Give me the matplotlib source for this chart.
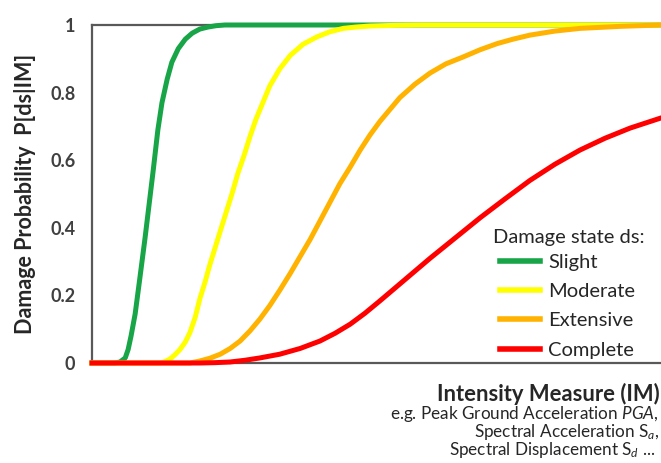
import matplotlib
matplotlib.use("Agg")
import matplotlib.pyplot as plt

plt.rcParams['font.family'] = ['Lato', 'DejaVu Sans']
plt.rcParams['mathtext.fontset'] = 'custom'
plt.rcParams['mathtext.rm'] = 'Lato'
plt.rcParams['mathtext.it'] = 'Lato:italic'

# fragility curves (IM in arbitrary units 0..10)
slight_im = [0, 0.39, 0.48, 0.57, 0.62, 0.67, 0.74, 0.82, 0.91, 0.98, 1.05, 1.13,
             1.20, 1.29, 1.37, 1.48, 1.60, 1.72, 1.85, 1.99, 2.13, 2.28, 10]
slight_p = [0, 0, 0.003, 0.015, 0.04, 0.08, 0.145, 0.25, 0.37, 0.47, 0.57, 0.69,
            0.77, 0.84, 0.89, 0.93, 0.958, 0.976, 0.988, 0.994, 0.998, 1.0, 1.0]

moderate_im = [0, 1.17, 1.25, 1.34, 1.42, 1.51, 1.60, 1.68, 1.77, 1.85, 1.94, 2.02,
               2.11, 2.20, 2.30, 2.40, 2.50, 2.61, 2.71, 2.81, 2.93, 3.05, 3.22,
               3.40, 3.62, 3.86, 4.08, 4.31, 4.53, 4.77, 5.20, 5.63, 10]
moderate_p = [0, 0, 0.004, 0.012, 0.024, 0.04, 0.062, 0.09, 0.135, 0.19, 0.24, 0.29,
              0.34, 0.39, 0.445, 0.50, 0.56, 0.615, 0.67, 0.72, 0.77, 0.82, 0.87,
              0.91, 0.943, 0.965, 0.98, 0.99, 0.994, 0.997, 0.999, 1.0, 1.0]

extensive_im = [0, 1.68, 1.85, 2.02, 2.20, 2.37, 2.54, 2.71, 2.88, 3.05, 3.22, 3.40,
                3.57, 3.74, 3.91, 4.08, 4.25, 4.43, 4.60, 4.77, 4.94, 5.11, 5.28,
                5.54, 5.80, 6.07, 6.36, 6.66, 6.95, 7.22, 7.51, 7.94, 8.37, 9.06,
                9.74, 10]
extensive_p = [0, 0, 0.006, 0.014, 0.026, 0.043, 0.065, 0.095, 0.13, 0.17, 0.215, 0.265,
               0.315, 0.365, 0.42, 0.475, 0.53, 0.58, 0.63, 0.675, 0.715, 0.75, 0.785,
               0.825, 0.858, 0.885, 0.905, 0.927, 0.945, 0.958, 0.97, 0.982, 0.99, 0.996,
               1.0, 1.0]

complete_im = [0, 1.85, 2.11, 2.37, 2.62, 2.88, 3.22, 3.57, 3.91, 4.17, 4.43, 4.68,
               4.94, 5.37, 5.80, 6.23, 6.66, 7.08, 7.51, 7.94, 8.37, 8.80, 9.23,
               9.76, 10]
complete_p = [0, 0, 0.001, 0.003, 0.008, 0.015, 0.026, 0.043, 0.065, 0.088, 0.115, 0.147,
              0.184, 0.247, 0.31, 0.37, 0.43, 0.485, 0.54, 0.588, 0.63, 0.665, 0.695,
              0.725, 0.735]

states = ['Slight', 'Moderate', 'Extensive', 'Complete']
colors = ['#18a548', '#ffff00', '#ffb300', '#ff0000']
yticks = [0, 0.2, 0.4, 0.6, 0.8, 1]
ytick_labels = ['0', '0.2', '0.4', '0.6', '0.8', '1']

W, H = 661, 463
fig = plt.figure(figsize=(W / 100, H / 100), dpi=100)
ax = fig.add_axes([92 / W, (H - 363) / H, (675 - 92) / W, (363 - 25) / H])

curves = [(slight_im, slight_p), (moderate_im, moderate_p),
          (extensive_im, extensive_p), (complete_im, complete_p)]
for (x, y), name, c in zip(curves, states, colors):
    ax.plot(x, y, color=c, lw=3.6, label=name, clip_on=False, zorder=3,
            solid_joinstyle='round')

ax.set_xlim(0, 10)
ax.set_ylim(0, 1)
ax.set_xticks([])
ax.set_yticks(yticks)
ax.set_yticklabels(ytick_labels)
ax.tick_params(axis='y', length=0, pad=12, labelsize=13, labelcolor='#404040')
for lab in ax.get_yticklabels():
    lab.set_fontweight('bold')

for side in ['left', 'top', 'bottom', 'right']:
    ax.spines[side].set_color('#595959')
    ax.spines[side].set_linewidth(1.6)

ax.set_ylabel('Damage Probability  P[ds|IM]', fontsize=15.5, fontweight='bold',
              color='#262626', labelpad=10)

leg = ax.legend(loc='upper left', bbox_to_anchor=(500 / W, (H - 254) / H),
                bbox_transform=fig.transFigure, frameon=False, fontsize=14.5,
                handlelength=2.0, handletextpad=0.4, labelspacing=0.6,
                borderpad=0, borderaxespad=0)
for t in leg.get_texts():
    t.set_color('#262626')
for h in leg.get_lines():
    h.set_linewidth(4)

fig.text(493 / W, (H - 238) / H, 'Damage state ds:', fontsize=14.5,
         color='#262626', ha='left', va='center')

fig.text(660 / W, (H - 394) / H, 'Intensity Measure (IM)', fontsize=15.8,
         fontweight='bold', color='#262626', ha='right', va='center')
fig.text(659 / W, (H - 414) / H, r'e.g. Peak Ground Acceleration $PGA$,',
         fontsize=12.3, color='#262626', ha='right', va='center')
fig.text(659 / W, (H - 432) / H, r'Spectral Acceleration $\mathrm{S}_a$,',
         fontsize=12.3, color='#262626', ha='right', va='center')
fig.text(655 / W, (H - 450) / H, r'Spectral Displacement $\mathrm{S}_d$ ...',
         fontsize=12.3, color='#262626', ha='right', va='center')

fig.savefig('out.png', dpi=100)
